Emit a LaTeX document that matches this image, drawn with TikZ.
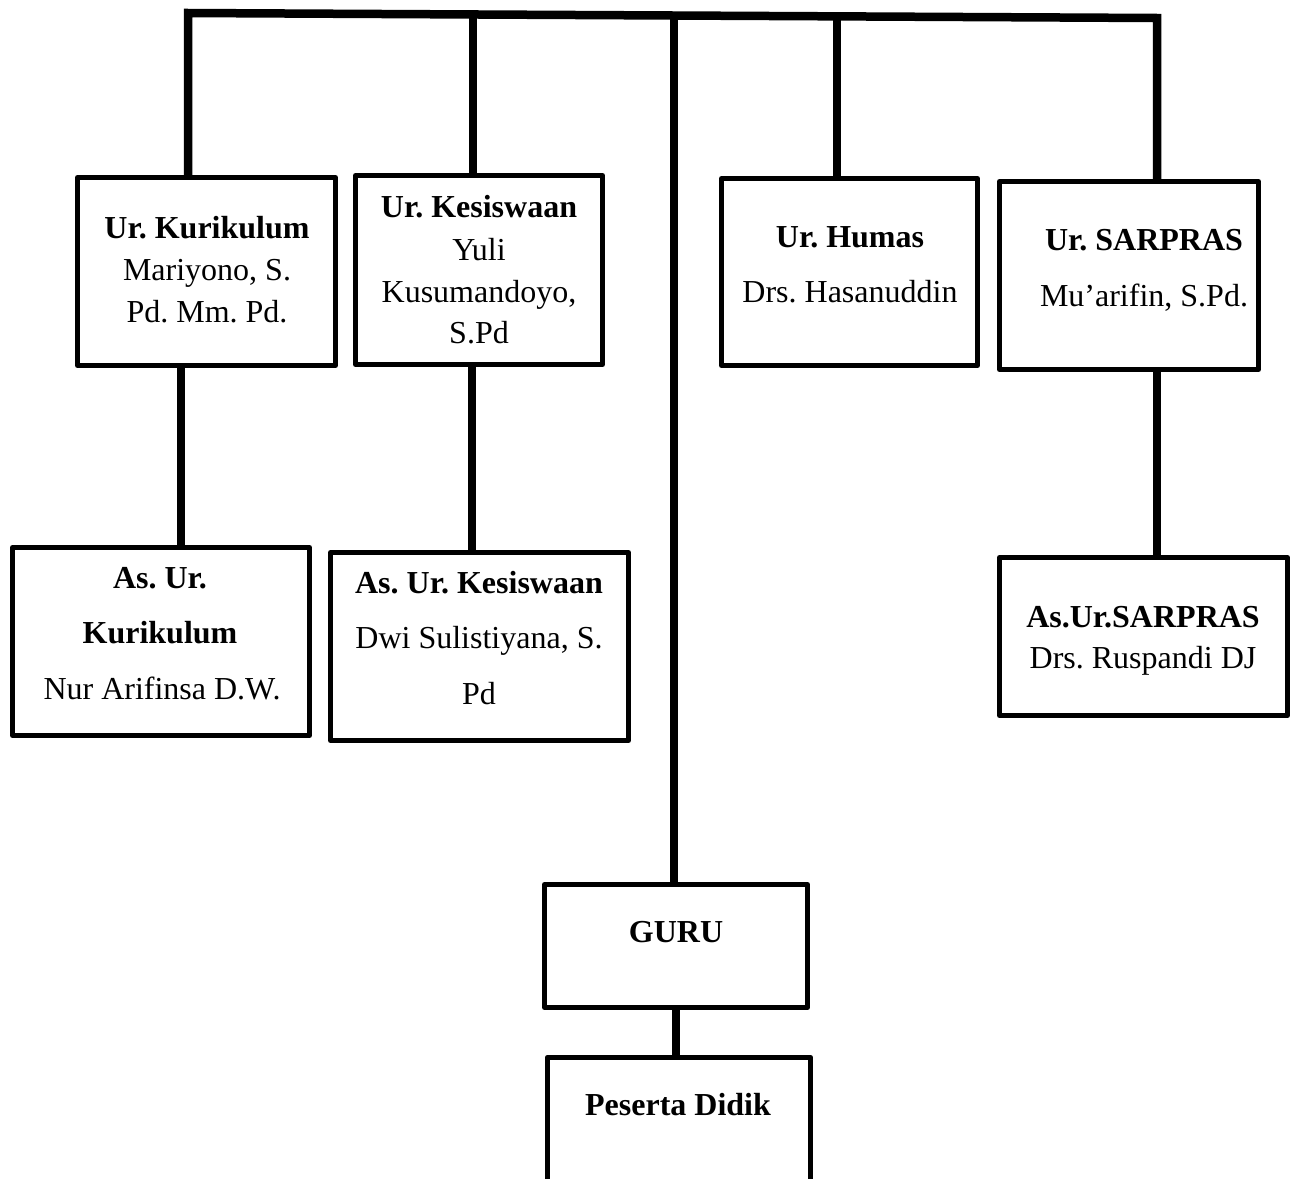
\documentclass[tikz,border=0pt]{standalone}
\usepackage{fontspec}
\setmainfont{Liberation Serif}
\frenchspacing
\begin{document}
\begin{tikzpicture}[x=1pt,y=-1pt,
  box/.style={draw, line width=5pt, rectangle, inner sep=0pt, line join=round},
  openbox/.style={rectangle, inner sep=0pt},
  conn/.style={line width=8.5pt, line join=miter},
  txt/.style={inner sep=0pt, anchor=base, font=\fontsize{32}{38}\selectfont},
  btxt/.style={txt, font=\fontsize{32}{38}\selectfont\bfseries}]
\useasboundingbox (0,0) rectangle (1298,1178);
\newcommand\boxat[6][box]{\node[#1, minimum width={#5-#3}, minimum height={#6-#4}] (#2) at ({(#3+#5)/2},{(#4+#6)/2}) {};}
% boxes
\boxat{kur}{77.5}{177.5}{335.5}{365.5}
\boxat{kes}{355.5}{175.5}{602.5}{364.5}
\boxat{hum}{721.5}{178.5}{977.5}{365.5}
\boxat{sar}{999.5}{181.5}{1258.5}{369.5}
\boxat{aku}{12.5}{547.5}{309.5}{735.5}
\boxat{ake}{330.5}{552.5}{628.5}{740.5}
\boxat{asa}{999.5}{557.5}{1287.5}{715.5}
\boxat{guru}{544.5}{884.5}{807.5}{1007.5}
\boxat[openbox]{pd}{547.5}{1057.5}{810.5}{1192}
\draw[line width=5pt, line join=round] (pd.south west) -- (pd.north west) -- (pd.north east) -- (pd.south east);
% texts
\node[btxt] (t1) at (207,238) {Ur. Kurikulum};
\node[txt] (t2) at (207,280) {Mariyono, S.};
\node[txt] (t3) at (207,322) {Pd. Mm. Pd.};
\node[btxt] (t4) at (479,217) {Ur. Kesiswaan};
\node[txt] (t5) at (479,260) {Yuli};
\node[txt] (t6) at (479,302) {Kusumandoyo,};
\node[txt] (t7) at (479,343) {S.Pd};
\node[btxt] (t8) at (850,247) {Ur. Humas};
\node[txt] (t9) at (850,302) {Drs. Hasanuddin};
\node[btxt] (t10) at (1144,250) {Ur. SARPRAS};
\node[txt] (t11) at (1144,306) {Mu’arifin, S.Pd.};
\node[btxt] (t12) at (160,588) {As. Ur.};
\node[btxt] (t13) at (160,643) {Kurikulum};
\node[txt] (t14) at (162,699) {Nur Arifinsa D.W.};
\node[btxt] (t15) at (479,593) {As. Ur. Kesiswaan};
\node[txt] (t16) at (479,648) {Dwi Sulistiyana, S.};
\node[txt] (t17) at (479,704) {Pd};
\node[btxt] (t18) at (1143,627) {As.Ur.SARPRAS};
\node[txt] (t19) at (1143,668) {Drs. Ruspandi DJ};
\node[btxt] (t20) at (676,942) {GURU};
\node[btxt] (t21) at (678,1115) {Peserta Didik};
% connectors
\coordinate (bL) at (188,13);
\coordinate (bR) at (1157,18);
\coordinate (v2) at (473,14.5);
\coordinate (v3) at (674,15.5);
\coordinate (v4) at (837,16.3);
\coordinate (k1) at (181,0);
\coordinate (k2) at (472,0);
\coordinate (k3) at (1157,0);
\coordinate (k4) at (676,0);
\draw[conn] (bL |- kur.north) -- (bL) -- (bR) -- (bR |- sar.north);
\draw[conn] (v2) -- (v2 |- kes.north);
\draw[conn] (v3) -- (v3 |- guru.north);
\draw[conn] (v4) -- (v4 |- hum.north);
\draw[conn] (kur.south -| k1) -- (aku.north -| k1);
\draw[conn] (kes.south -| k2) -- (ake.north -| k2);
\draw[conn] (sar.south -| k3) -- (asa.north -| k3);
\draw[conn] (guru.south -| k4) -- (pd.north -| k4);
\end{tikzpicture}
\end{document}
